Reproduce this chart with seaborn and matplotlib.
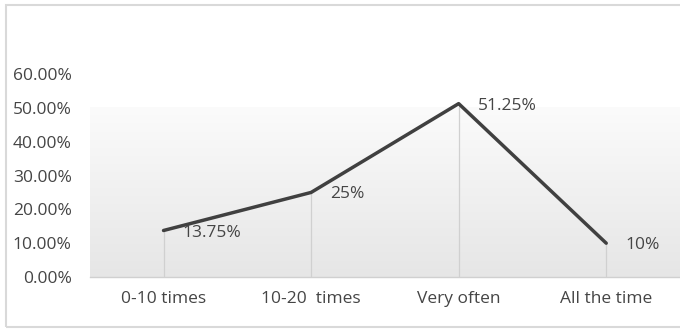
import numpy as np
import pandas as pd
import matplotlib
matplotlib.use("Agg")
import matplotlib.pyplot as plt
from matplotlib.patches import Rectangle
import seaborn as sns

categories = ["0-10 times", "10-20  times", "Very often", "All the time"]
values = [13.75, 25.0, 51.25, 10.0]
labels = ["13.75%", "25%", "51.25%", "10%"]
yticks = [0, 10, 20, 30, 40, 50, 60]
ytick_labels = ["0.00%", "10.00%", "20.00%", "30.00%", "40.00%", "50.00%", "60.00%"]

sns.set_style("white")
plt.rcParams["font.family"] = ["Open Sans", "DejaVu Sans"]

df = pd.DataFrame({"cat": categories, "val": values, "x": np.arange(len(categories))})

fig = plt.figure(figsize=(6.8, 3.29), dpi=100)
ax = fig.add_axes([0.132, 0.158, 0.868, 0.617])

# gradient background in lower part of plot area
grad = np.linspace(0, 1, 256).reshape(-1, 1)
cmap = matplotlib.colors.LinearSegmentedColormap.from_list("g", ["#e6e6e6", "#fbfbfb"])
ax.imshow(grad, extent=(-0.5, len(categories) - 0.5, 0, 50), origin="lower",
          aspect="auto", cmap=cmap, zorder=0)

# drop lines
ax.vlines(df["x"], 0, df["val"], color="#d0d0d0", linewidth=0.9, zorder=1)

sns.lineplot(data=df, x="x", y="val", ax=ax, color="#404040", linewidth=2.5,
             sort=False, zorder=3)

tc = "#454545"
fs = 12.5
for xi, v, lab in zip(df["x"], values, labels):
    ax.text(xi + 0.13, v - 0.6, lab, ha="left", va="center", fontsize=fs,
            color=tc, zorder=4)

ax.set_xlim(-0.5, len(categories) - 0.5)
ax.set_ylim(0, 60)
ax.set_xticks(df["x"])
ax.set_xticklabels(categories, fontsize=fs, color=tc)
ax.set_yticks(yticks)
ax.set_yticklabels(ytick_labels, fontsize=fs, color=tc)
ax.tick_params(axis="both", length=0)
ax.tick_params(axis="x", pad=10)
ax.tick_params(axis="y", pad=13)
ax.set_xlabel("")
ax.set_ylabel("")
for s in ["top", "right", "left"]:
    ax.spines[s].set_visible(False)
ax.spines["bottom"].set_color("#d0d0d0")
ax.spines["bottom"].set_linewidth(1.0)

fig.patches.append(Rectangle((0.009, 0.005), 1.2, 0.98, transform=fig.transFigure,
                             fill=False, edgecolor="#d9d9d9", linewidth=1.5))

fig.savefig("out.png", dpi=100)
